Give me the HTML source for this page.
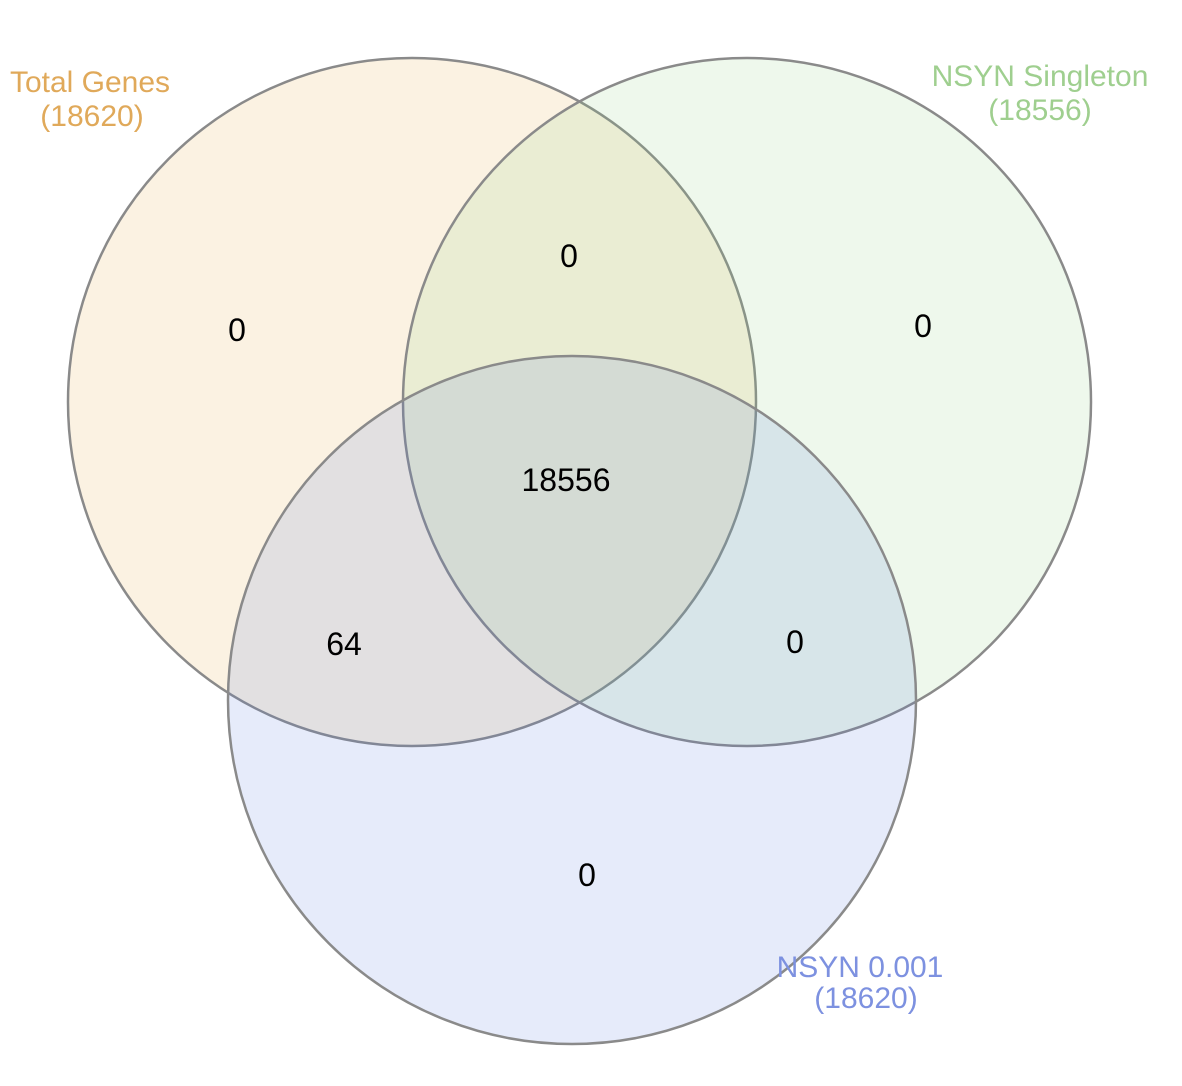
<!DOCTYPE html>
<html><head><meta charset="utf-8">
<style>
html,body{margin:0;padding:0;background:#fff;}
svg{display:block;font-family:"Liberation Sans",Arial,sans-serif;}
</style></head>
<body>
<svg id="venn" width="1182" height="1086"></svg>
<script>
const setNames = ["Total Genes", "NSYN Singleton", "NSYN 0.001"];
const setTotals = [18620, 18556, 18620];
const regionValues = [0, 0, 0, 0, 64, 0, 18556]; // A only, A∩B, B only, C only, A∩C, B∩C, A∩B∩C
const regionNames = ["a-only","a-b","b-only","c-only","a-c","b-c","a-b-c"];

const circles = [{cx:412,cy:402,r:344,fill:"rgb(230,170,60)",text:"#e0a95a"},
                 {cx:747,cy:402,r:344,fill:"rgb(142,208,128)",text:"#9fcf8f"},
                 {cx:572,cy:700,r:344,fill:"rgb(88,122,222)",text:"#7d91e0"}];
const regionPos = [[237,330],[569,256],[923,326],[587,875],[344,644],[795,642],[566,480]];
const labelPos = [[[90,82],[92,116]],[[1040,76],[1040,110]],[[860,967],[866,998]]];

const svg = document.getElementById('venn');
const NS = "http://www.w3.org/2000/svg";
circles.forEach((c,i)=>{
  const e = document.createElementNS(NS,'circle');
  e.setAttribute('cx',c.cx);e.setAttribute('cy',c.cy);e.setAttribute('r',c.r);
  e.setAttribute('fill',c.fill);e.setAttribute('fill-opacity','0.15');
  e.setAttribute('stroke','#8a8a8a');e.setAttribute('stroke-width','2.5');
  
  
  svg.appendChild(e);
});
regionValues.forEach((v,i)=>{
  const t = document.createElementNS(NS,'text');
  t.setAttribute('x',regionPos[i][0]);t.setAttribute('y',regionPos[i][1]+11);
  t.setAttribute('text-anchor','middle');t.setAttribute('font-size','32');t.setAttribute('fill','#000');
  t.textContent = v;
  
  
  svg.appendChild(t);
});
setNames.forEach((n,i)=>{
  const lines=[n,"("+setTotals[i]+")"];
  lines.forEach((s,j)=>{
    const t = document.createElementNS(NS,'text');
    t.setAttribute('x',labelPos[i][j][0]);t.setAttribute('y',labelPos[i][j][1]+10);
    t.setAttribute('text-anchor','middle');t.setAttribute('font-size','30');t.setAttribute('fill',circles[i].text);
    t.textContent = s;
    
    
    svg.appendChild(t);
  });
});
</script>
</body></html>
